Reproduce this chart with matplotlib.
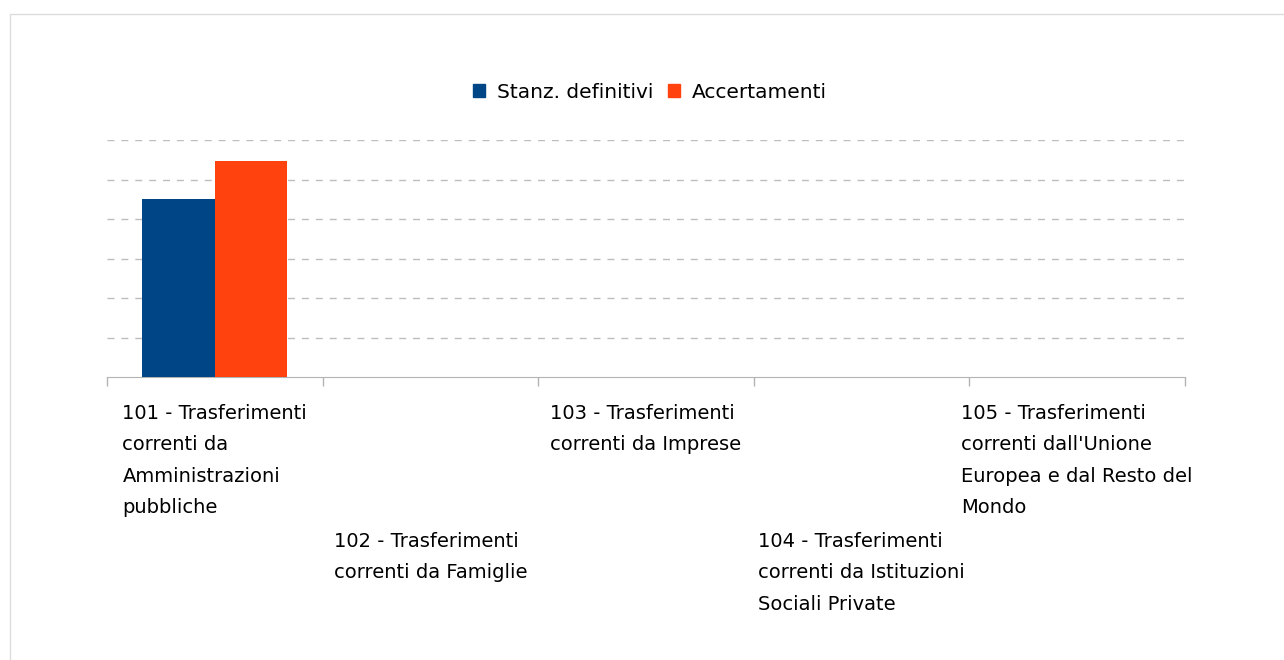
import matplotlib
matplotlib.use("Agg")
import matplotlib.pyplot as plt
from matplotlib.patches import Patch, Rectangle
from matplotlib.transforms import blended_transform_factory
import numpy as np

categories = [
    "101 - Trasferimenti\ncorrenti da\nAmministrazioni\npubbliche",
    "102 - Trasferimenti\ncorrenti da Famiglie",
    "103 - Trasferimenti\ncorrenti da Imprese",
    "104 - Trasferimenti\ncorrenti da Istituzioni\nSociali Private",
    "105 - Trasferimenti\ncorrenti dall'Unione\nEuropea e dal Resto del\nMondo",
]
stanz_definitivi = [4.5, 0, 0, 0, 0]
accertamenti = [5.47, 0, 0, 0, 0]
series_names = ["Stanz. definitivi", "Accertamenti"]
colors = ["#004586", "#ff420e"]

W, H = 1284, 660
fig = plt.figure(figsize=(W / 100, H / 100), dpi=100)
fig.patch.set_facecolor("white")

# light frame around the chart
fig.add_artist(Rectangle((9.5 / W, -0.05), 1.1, 1 - 13.5 / H + 0.05,
                         transform=fig.transFigure, fill=False,
                         edgecolor="#dcdcdc", linewidth=1.0))

left, right = 107 / W, 1185 / W
bottom, top = 1 - 377 / H, 1 - 140 / H
ax = fig.add_axes([left, bottom, right - left, top - bottom])

x = np.arange(len(categories))
w = 0.337
ax.bar(x - w / 2, stanz_definitivi, width=w, color=colors[0], zorder=3)
ax.bar(x + w / 2, accertamenti, width=w, color=colors[1], zorder=3)

ax.set_xlim(-0.5, len(categories) - 0.5)
ax.set_ylim(0, 6)
ax.set_yticks(np.arange(1, 7))
ax.yaxis.grid(True, color="#bdbdbd", linestyle=(0, (5, 5)), linewidth=1)
ax.tick_params(axis="y", left=False, labelleft=False)

ax.set_xticks(np.arange(-0.5, len(categories)))
ax.tick_params(axis="x", direction="out", length=6.5, width=1,
               color="#b3b3b3", labelbottom=False)

for s in ["left", "top", "right"]:
    ax.spines[s].set_visible(False)
ax.spines["bottom"].set_color("#b3b3b3")
ax.set_facecolor("none")

tr = blended_transform_factory(ax.transData, fig.transFigure)
for i, lab in enumerate(categories):
    ytop = 1 - (404 if i % 2 == 0 else 532) / H
    ax.text(i, ytop, lab, transform=tr, ha="center", va="top",
            multialignment="left", fontsize=14, linespacing=1.83,
            color="#000000")

handles = [Patch(color=c) for c in colors]
fig.legend(handles, series_names, loc="center",
           bbox_to_anchor=(650 / W, 1 - 92 / H),
           ncol=2, frameon=False, fontsize=14.5, handlelength=0.6,
           handleheight=0.6, handletextpad=0.6, columnspacing=0.7)

fig.savefig("out.png", dpi=100)
